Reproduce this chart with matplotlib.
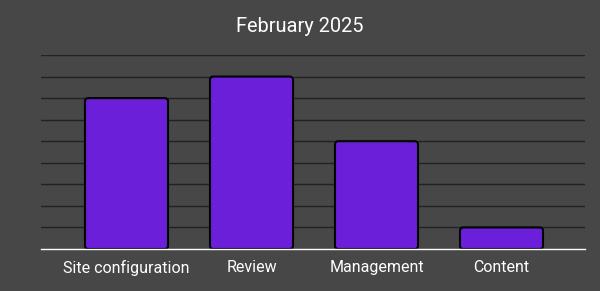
import matplotlib.pyplot as plt
from matplotlib.patches import FancyBboxPatch

# chart data
categories = ["Site configuration", "Review", "Management", "Content"]
values = [7, 8, 5, 1]
title = "February 2025"

plt.rcParams['font.family'] = ['Roboto', 'DejaVu Sans']

bg = "#474747"
fig = plt.figure(figsize=(6, 2.91), dpi=100, facecolor=bg)
ax = fig.add_axes([41 / 600, 1 - 249 / 291, 544 / 600, 194 / 291])
ax.set_facecolor(bg)

x = range(len(categories))
bars = ax.bar(x, values, width=0.664, color="#6c1fd8", edgecolor="black", linewidth=1.5, zorder=3)

ax.set_ylim(0, 9)
ax.set_xlim(-0.684, 3.668)

# swap plain rectangles for slightly rounded ones
for b in bars:
    rounded = FancyBboxPatch((b.get_x(), b.get_y()), b.get_width(), b.get_height(),
                             boxstyle="round,pad=0,rounding_size=0.025",
                             mutation_aspect=125 / 21.6,
                             facecolor=b.get_facecolor(), edgecolor="black",
                             linewidth=1.5, zorder=3)
    b.remove()
    ax.add_patch(rounded)

ax.set_yticks(range(1, 10))
ax.yaxis.grid(True, color="#222222", linewidth=1, zorder=0)
ax.tick_params(axis="y", left=False, labelleft=False)
ax.tick_params(axis="x", length=0, colors="white", labelsize=11.5, pad=8)
ax.set_xticks(list(x))
ax.set_xticklabels(categories)

for side in ["top", "right", "left"]:
    ax.spines[side].set_visible(False)
ax.spines["bottom"].set_color("white")
ax.spines["bottom"].set_linewidth(1)
ax.spines["bottom"].set_zorder(4)

fig.text(0.5, 1 - 27 / 291, title, color="white", fontsize=14.4, ha="center", va="center")

fig.savefig("out.png", dpi=100, facecolor=bg)
